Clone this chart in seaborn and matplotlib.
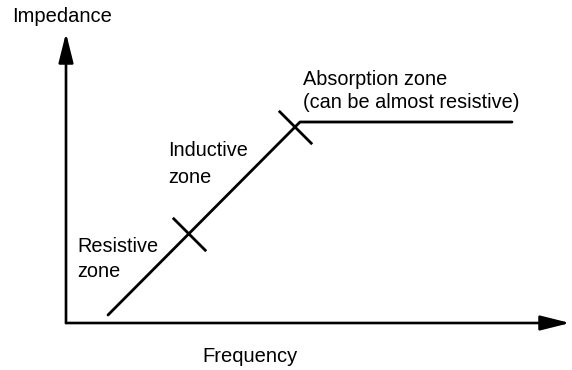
import matplotlib
matplotlib.use("Agg")
import matplotlib.pyplot as plt
from matplotlib.markers import MarkerStyle
import seaborn as sns
import pandas as pd

# schematic values (origin at the axes corner)
frequency = [42, 234, 446]
impedance = [8, 201, 201]
cross_freq = [123, 229]
cross_imp = [89, 196]
axis_len_x = 504
axis_len_y = 290

zone_labels = ["Resistive\nzone", "Inductive\nzone",
               "Absorption zone\n(can be almost resistive)"]
zone_x = [11, 102, 237]
zone_y = [46, 140, 215]          # baseline of the last line
zone_spacing = [1.4, 1.55, 1.28]

sns.set_theme(style="white")
plt.rcParams["font.family"] = ["Liberation Sans", "DejaVu Sans"]
plt.rcParams["text.color"] = "black"

fig = plt.figure(figsize=(5.72, 3.70), dpi=100)
ax = fig.add_axes([0, 0, 1, 1])
ax.set_xlim(-66, 506)
ax.set_ylim(-47, 323)
ax.axis("off")

# axes with arrow heads
for end in [(axis_len_x, 0), (0, axis_len_y)]:
    ax.annotate("", xy=end, xytext=(0, 0),
                arrowprops=dict(arrowstyle="-|>,head_length=1.8,head_width=0.45",
                                mutation_scale=10, color="black", lw=1.9,
                                shrinkA=0, shrinkB=0))

curve = pd.DataFrame({"f": frequency, "z": impedance})
sns.lineplot(data=curve, x="f", y="z", sort=False, color="black", lw=2, ax=ax)

crosses = pd.DataFrame({"f": cross_freq, "z": cross_imp})
tick = MarkerStyle("_").rotated(deg=-45)
sns.scatterplot(data=crosses, x="f", y="z", marker=tick, s=34 ** 2,
                color="black", linewidth=2, ax=ax)

for lab, x, y, ls in zip(zone_labels, zone_x, zone_y, zone_spacing):
    ax.text(x, y, lab, fontsize=14.3, ha="left", va="baseline",
            linespacing=ls, color="black")

ax.text(-54, 301, "Impedance", fontsize=14.5, ha="left", va="baseline", color="black")
ax.text(232, -39, "Frequency", fontsize=14.5, ha="right", va="baseline", color="black")

ax.set_xlabel("")
ax.set_ylabel("")
fig.savefig("out.png", dpi=100)
